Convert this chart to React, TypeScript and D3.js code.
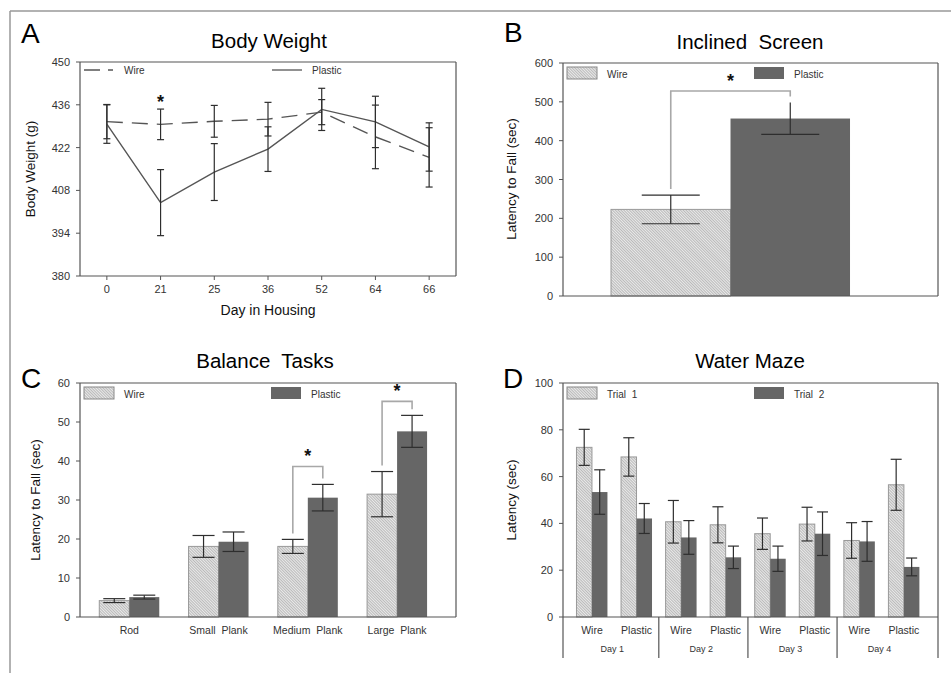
import React from 'react';
import * as d3 from 'd3';

const FONT = "Arial, 'Liberation Sans', Helvetica, sans-serif";

// A: body weight over days in housing
const days = ['0', '21', '25', '36', '52', '64', '66'];
const wireWeight = [430.5, 429.6, 430.6, 431.3, 433.6, 425.5, 418.8];
const wireWeightErr = [5.6, 5.0, 5.2, 5.5, 4.1, 10.4, 9.7];
const plasticWeight = [429.7, 404.0, 414.0, 421.5, 434.5, 430.4, 422.2];
const plasticWeightErr = [6.3, 10.8, 9.3, 7.3, 6.9, 8.4, 7.9];
const weightTicks = [380, 394, 408, 422, 436, 450];
const weightSig = ['21'];

// B: inclined screen
const housing = ['Wire', 'Plastic'];
const screenMean = [223, 457];
const screenErr = [37, 41];
const screenTicks = [0, 100, 200, 300, 400, 500, 600];
const screenBracket = 528;

// C: balance tasks
const balanceTasks = ['Rod', 'Small  Plank', 'Medium  Plank', 'Large  Plank'];
const balanceWire = [4.2, 18.1, 18.1, 31.5];
const balanceWireErr = [0.5, 2.8, 1.8, 5.8];
const balancePlastic = [5.1, 19.3, 30.6, 47.6];
const balancePlasticErr = [0.5, 2.5, 3.4, 4.1];
const balanceTicks = [0, 10, 20, 30, 40, 50, 60];
const balanceBrackets = [
  { task: 'Medium  Plank', level: 38.6 },
  { task: 'Large  Plank', level: 55.3 },
];

// D: water maze
const mazeDays = ['Day 1', 'Day 2', 'Day 3', 'Day 4'];
const mazeTrials = ['Trial  1', 'Trial  2'];
const mazeTrial1 = [72.5, 68.4, 40.7, 39.4, 35.6, 39.7, 32.7, 56.5];
const mazeTrial1Err = [7.7, 8.2, 9.1, 7.7, 6.7, 7.2, 7.6, 10.9];
const mazeTrial2 = [53.4, 42.1, 34.0, 25.5, 24.9, 35.6, 32.3, 21.4];
const mazeTrial2Err = [9.5, 6.4, 7.2, 4.8, 5.4, 9.3, 8.5, 3.8];
const mazeTicks = [0, 20, 40, 60, 80, 100];

const DARK = '#666666';
const ERR = '#2e2e2e';
const BRACKET = '#a8a8a8';
const BOX = '#555';

type Box = { x0: number; x1: number; y0: number; y1: number };

const ErrBar = ({ x, top, bot, cap, capTop = true, capBot = true }: any) => (
  <g stroke={ERR} strokeWidth={1.2}>
    <line x1={x} x2={x} y1={top} y2={bot} />
    {capTop && <line x1={x - cap / 2} x2={x + cap / 2} y1={top} y2={top} />}
    {capBot && <line x1={x - cap / 2} x2={x + cap / 2} y1={bot} y2={bot} />}
  </g>
);

const YTicks = ({ box, y, ticks }: { box: Box; y: any; ticks: number[] }) => (
  <g>
    {ticks.map(t => (
      <g key={t}>
        <line x1={box.x0 - 4} x2={box.x0} y1={y(t)} y2={y(t)} stroke={BOX} />
        <text x={box.x0 - 10} y={y(t) + 4} textAnchor="end" fontSize={11} fill="#333">{t}</text>
      </g>
    ))}
  </g>
);

const Frame = ({ box, bottom = true }: { box: Box; bottom?: boolean }) => (
  <g fill="none" stroke={BOX} strokeWidth={1.2}>
    <line x1={box.x0} x2={box.x1} y1={box.y0} y2={box.y0} />
    <line x1={box.x0} x2={box.x0} y1={box.y0} y2={box.y1} />
    <line x1={box.x1} x2={box.x1} y1={box.y0} y2={box.y1} />
    {bottom && <line x1={box.x0} x2={box.x1} y1={box.y1} y2={box.y1} />}
  </g>
);

const Heading = ({ letter, lx, ly, title, tx, ty, ylabel, yx, yy }: any) => (
  <g>
    <text x={lx} y={ly} fontSize={28} fill="#000">{letter}</text>
    <text x={tx} y={ty} fontSize={20.5} textAnchor="middle" fill="#000" style={{ whiteSpace: 'pre' }}>{title}</text>
    <text transform={`translate(${yx},${yy}) rotate(-90)`} fontSize={13.5} textAnchor="middle" fill="#111">{ylabel}</text>
  </g>
);

const BarLegend = ({ box, labels }: { box: Box; labels: string[] }) => (
  <g fontSize={10} fill="#333">
    <rect x={box.x0 + 4} y={box.y0 + 4} width={30} height={12} fill="url(#hatch)" stroke="#888" />
    <text x={box.x0 + 44} y={box.y0 + 15} style={{ whiteSpace: 'pre' }}>{labels[0]}</text>
    <rect x={box.x0 + 191} y={box.y0 + 4} width={30} height={12} fill={DARK} />
    <text x={box.x0 + 231} y={box.y0 + 15} style={{ whiteSpace: 'pre' }}>{labels[1]}</text>
  </g>
);

const Bracket = ({ xa, xb, level, topA, topB }: any) => (
  <g>
    <path d={`M${xa},${topA - 6}V${level}H${xb}V${topB - 6}`} fill="none" stroke={BRACKET} strokeWidth={1.6} />
    <text x={(xa + xb) / 2} y={level - 4} fontSize={18} fontWeight="bold" textAnchor="middle" fill="#111">*</text>
  </g>
);

function PanelA() {
  const box: Box = { x0: 80, x1: 456, y0: 62, y1: 276 };
  const x = d3.scalePoint().domain(days).range([box.x0, box.x1]).padding(0.5);
  const y = d3.scaleLinear().domain([380, 450]).range([box.y1, box.y0]);
  const line = d3.line<number>().x((_, i) => x(days[i])!).y(d => y(d));
  const series = [
    { vals: wireWeight, err: wireWeightErr, dash: '16,9' },
    { vals: plasticWeight, err: plasticWeightErr, dash: undefined },
  ];
  return (
    <g>
      <Heading letter="A" lx={21} ly={43} title="Body Weight" tx={269} ty={48}
        ylabel="Body Weight (g)" yx={35} yy={169} />
      <Frame box={box} />
      <YTicks box={box} y={y} ticks={weightTicks} />
      {days.map(d => (
        <g key={d}>
          <line x1={x(d)} x2={x(d)} y1={box.y1} y2={box.y1 + 4} stroke={BOX} />
          <text x={x(d)} y={box.y1 + 17} fontSize={11} textAnchor="middle" fill="#333">{d}</text>
        </g>
      ))}
      <text x={268} y={315} fontSize={14} textAnchor="middle" fill="#111">Day in Housing</text>
      {series.map((s, k) => (
        <g key={k}>
          <path d={line(s.vals)!} fill="none" stroke="#555" strokeWidth={1.4} strokeDasharray={s.dash} />
          {s.vals.map((v, i) => (
            <ErrBar key={i} x={x(days[i])} top={y(v + s.err[i])} bot={y(v - s.err[i])} cap={7} />
          ))}
        </g>
      ))}
      {weightSig.map(d => {
        const i = days.indexOf(d);
        return (
          <text key={d} x={x(d)} y={y(wireWeight[i] + wireWeightErr[i]) - 1} fontSize={18} fontWeight="bold" textAnchor="middle" fill="#111">*</text>
        );
      })}
      <g fontSize={10} fill="#333">
        <line x1={box.x0 + 4} x2={box.x0 + 33} y1={box.y0 + 8} y2={box.y0 + 8} stroke="#555" strokeWidth={1.3} strokeDasharray="16,8" />
        <text x={box.x0 + 44} y={box.y0 + 12}>Wire</text>
        <line x1={box.x0 + 192} x2={box.x0 + 222} y1={box.y0 + 8} y2={box.y0 + 8} stroke="#555" strokeWidth={1.3} />
        <text x={box.x0 + 232} y={box.y0 + 12}>Plastic</text>
      </g>
    </g>
  );
}

function PanelB() {
  const box: Box = { x0: 563, x1: 938, y0: 63, y1: 296 };
  const x = d3.scaleBand().domain(housing).range([box.x0, box.x1]).paddingInner(0).paddingOuter(0.569).align(0.353);
  const y = d3.scaleLinear().domain([0, 600]).range([box.y1, box.y0]);
  const bw = x.bandwidth();
  const cx = (h: string) => x(h)! + bw / 2;
  return (
    <g>
      <Heading letter="B" lx={504} ly={42} title="Inclined  Screen" tx={750} ty={49}
        ylabel="Latency to Fall (sec)" yx={516} yy={179} />
      {housing.map((h, i) => (
        <rect key={h} x={x(h)} y={y(screenMean[i])} width={bw} height={box.y1 - y(screenMean[i])}
          fill={i === 0 ? 'url(#hatch)' : DARK} stroke={i === 0 ? '#999' : 'none'} />
      ))}
      {housing.map((h, i) => (
        <ErrBar key={h} x={cx(h)} top={y(screenMean[i] + screenErr[i])} bot={y(screenMean[i] - screenErr[i])}
          cap={58} capTop={i === 0} />
      ))}
      <Bracket xa={cx('Wire')} xb={cx('Plastic')} level={y(screenBracket)}
        topA={y(screenMean[0] + screenErr[0])} topB={y(screenMean[1] + screenErr[1])} />
      <Frame box={box} />
      <YTicks box={box} y={y} ticks={screenTicks} />
      <BarLegend box={box} labels={housing} />
    </g>
  );
}

function PanelC() {
  const box: Box = { x0: 80, x1: 456, y0: 383, y1: 617 };
  const x = d3.scaleBand().domain(balanceTasks).range([box.x0, box.x1]).paddingInner(0.328).paddingOuter(0.27).align(0.4);
  const inner = d3.scaleBand().domain(housing).range([0, x.bandwidth()]);
  const y = d3.scaleLinear().domain([0, 60]).range([box.y1, box.y0]);
  const bw = inner.bandwidth();
  const series = [
    { vals: balanceWire, err: balanceWireErr, h: 'Wire' },
    { vals: balancePlastic, err: balancePlasticErr, h: 'Plastic' },
  ];
  const cx = (t: string, h: string) => x(t)! + inner(h)! + bw / 2;
  return (
    <g>
      <Heading letter="C" lx={21} ly={388} title="Balance  Tasks" tx={265} ty={368}
        ylabel="Latency to Fall (sec)" yx={40} yy={500} />
      {series.map(s => balanceTasks.map((t, i) => (
        <rect key={s.h + t} x={x(t)! + inner(s.h)!} y={y(s.vals[i])} width={bw} height={box.y1 - y(s.vals[i])}
          fill={s.h === 'Wire' ? 'url(#hatch)' : DARK} stroke={s.h === 'Wire' ? '#999' : 'none'} />
      )))}
      {series.map(s => balanceTasks.map((t, i) => (
        <ErrBar key={s.h + t} x={cx(t, s.h)} top={y(s.vals[i] + s.err[i])} bot={y(s.vals[i] - s.err[i])} cap={22} />
      )))}
      {balanceBrackets.map(b => {
        const i = balanceTasks.indexOf(b.task);
        return (
          <Bracket key={b.task} xa={cx(b.task, 'Wire')} xb={cx(b.task, 'Plastic')} level={y(b.level)}
            topA={y(balanceWire[i] + balanceWireErr[i])} topB={y(balancePlastic[i] + balancePlasticErr[i])} />
        );
      })}
      <Frame box={box} />
      <YTicks box={box} y={y} ticks={balanceTicks} />
      {balanceTasks.map(t => (
        <text key={t} x={x(t)! + x.bandwidth() / 2} y={box.y1 + 17} fontSize={10.5} textAnchor="middle" fill="#333"
          style={{ whiteSpace: 'pre' }}>{t}</text>
      ))}
      <BarLegend box={box} labels={housing} />
    </g>
  );
}

function PanelD() {
  const box: Box = { x0: 563, x1: 938, y0: 383, y1: 617 };
  const groups = mazeDays.flatMap(d => housing.map(h => `${d}|${h}`));
  const x = d3.scaleBand().domain(groups).range([box.x0, box.x1]).paddingInner(0.305).paddingOuter(0.36).align(0.42);
  const inner = d3.scaleBand().domain(mazeTrials).range([0, x.bandwidth()]);
  const y = d3.scaleLinear().domain([0, 100]).range([box.y1, box.y0]);
  const bw = inner.bandwidth();
  const series = [
    { vals: mazeTrial1, err: mazeTrial1Err, t: mazeTrials[0] },
    { vals: mazeTrial2, err: mazeTrial2Err, t: mazeTrials[1] },
  ];
  const step = x.step();
  const seps = [box.x0, ...mazeDays.slice(1).map(d => x(`${d}|Wire`)! - (step - x.bandwidth()) / 2), box.x1];
  return (
    <g>
      <Heading letter="D" lx={503} ly={388} title="Water Maze" tx={750} ty={368}
        ylabel="Latency (sec)" yx={516} yy={500} />
      {series.map(s => groups.map((g, i) => (
        <rect key={s.t + g} x={x(g)! + inner(s.t)!} y={y(s.vals[i])} width={bw} height={box.y1 - y(s.vals[i])}
          fill={s.t === mazeTrials[0] ? 'url(#hatch)' : DARK} stroke={s.t === mazeTrials[0] ? '#999' : 'none'} />
      )))}
      {series.map(s => groups.map((g, i) => (
        <ErrBar key={s.t + g} x={x(g)! + inner(s.t)! + bw / 2} top={y(s.vals[i] + s.err[i])} bot={y(s.vals[i] - s.err[i])} cap={11} />
      )))}
      <Frame box={box} />
      <YTicks box={box} y={y} ticks={mazeTicks} />
      {seps.map((sx, k) => (
        <line key={k} x1={sx} x2={sx} y1={box.y1} y2={box.y1 + 41} stroke={BOX} strokeWidth={1.2} />
      ))}
      {groups.map(g => (
        <text key={g} x={x(g)! + x.bandwidth() / 2} y={box.y1 + 17} fontSize={10.5} textAnchor="middle" fill="#333">
          {g.split('|')[1]}
        </text>
      ))}
      {mazeDays.map(d => {
        const a = x(`${d}|Wire`)! + x.bandwidth() / 2;
        const b = x(`${d}|Plastic`)! + x.bandwidth() / 2;
        return (
          <text key={d} x={(a + b) / 2 - 2} y={box.y1 + 35} fontSize={9} textAnchor="middle" fill="#333">{d}</text>
        );
      })}
      <BarLegend box={box} labels={mazeTrials} />
    </g>
  );
}

export default function App() {
  return (
    <svg width={951} height={673} style={{ position: 'absolute', left: 0, top: 0, background: '#fff' }}
      fontFamily={FONT}>
      <defs>
        <pattern id="hatch" patternUnits="userSpaceOnUse" width={2} height={2} patternTransform="rotate(-45)">
          <rect width={2} height={2} fill="#e9e9e9" />
          <line x1={0.5} y1={0} x2={0.5} y2={2} stroke="#b4b4b4" strokeWidth={0.9} />
        </pattern>
      </defs>
      <rect x={0} y={0} width={951} height={673} fill="#fff" />
      <line x1={10} x2={951} y1={11} y2={11} stroke="#999" strokeWidth={1.5} />
      <line x1={10} x2={10} y1={11} y2={673} stroke="#999" strokeWidth={1.5} />
      <PanelA />
      <PanelB />
      <PanelC />
      <PanelD />
    </svg>
  );
}
